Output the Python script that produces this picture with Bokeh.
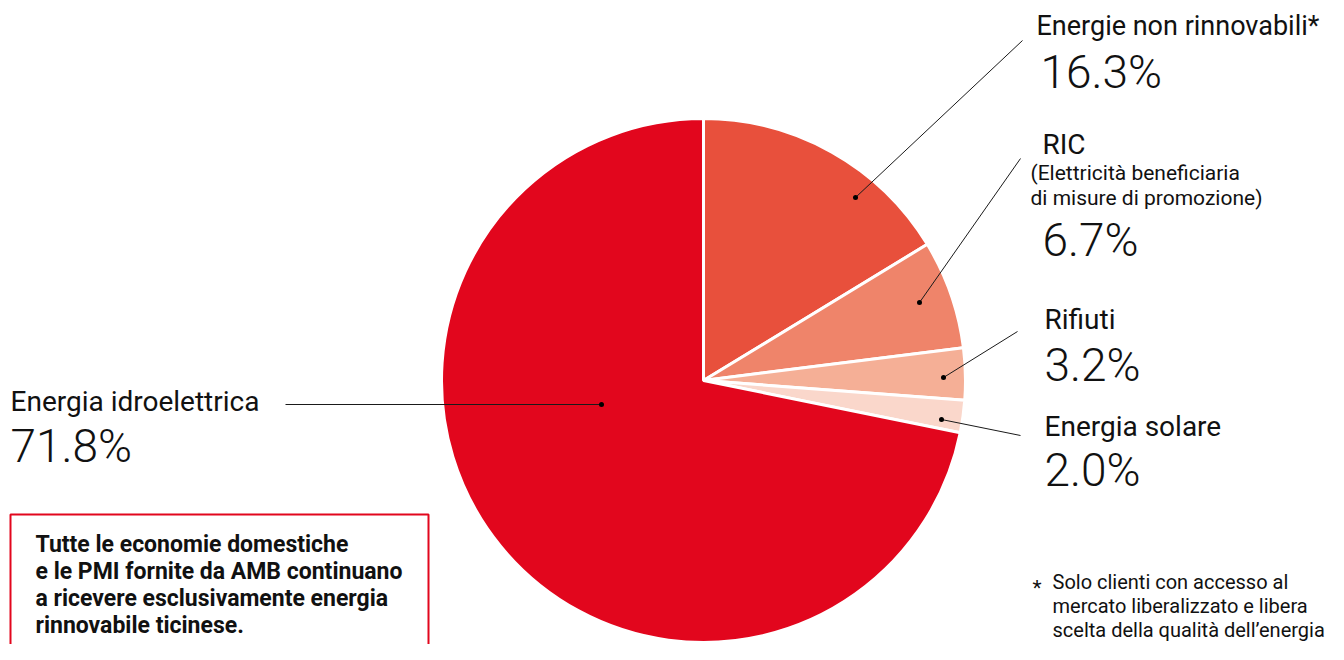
import numpy as np
from bokeh.plotting import figure
from bokeh.models import ColumnDataSource
from bokeh.core.properties import value
from bokeh.embed import file_html
from bokeh.resources import INLINE

# ---- data ----
categories = ["Energie non rinnovabili*", "RIC", "Rifiuti", "Energia solare", "Energia idroelettrica"]
shares = [16.3, 6.7, 3.2, 2.0, 71.8]
pct_labels = ["16.3%", "6.7%", "3.2%", "2.0%", "71.8%"]
colors = ["#E8503C", "#EF846A", "#F5AF96", "#FAD7CB", "#E2061D"]

box_lines = ["Tutte le economie domestiche",
             "e le PMI fornite da AMB continuano",
             "a ricevere  esclusivamente energia",
             "rinnovabile ticinese."]
foot_lines = ["Solo clienti con accesso al",
              "mercato liberalizzato e libera",
              "scelta della qualità dell\u2019energia"]
ric_sub = ["(Elettricità beneficiaria", "di misure di promozione)"]

# ---- layout (reference pixel space, y flipped: data y = 660 - py) ----
W, H = 1328, 644
CX, CY, R = 703, 660 - 380, 262
FONT = value("Roboto")
LIGHT = value("Roboto Light")


def ty(baseline_px, size):
    # baseline in picture px -> data y (compensating the svg baseline shift)
    return 660 - baseline_px + 0.38 * size


p = figure(width=W, height=H, x_range=(0, W), y_range=(660 - H, 660),
           output_backend="svg", toolbar_location=None, min_border=0)
p.axis.visible = False
p.grid.visible = False
p.outline_line_color = None
p.background_fill_color = "white"

# wedges clockwise from the top
frac = np.array(shares) / sum(shares)
cum = np.concatenate([[0], np.cumsum(frac)])
start = np.pi / 2 - cum[:-1] * 2 * np.pi
end = np.pi / 2 - cum[1:] * 2 * np.pi
src = ColumnDataSource(dict(start=start, end=end, color=colors))
p.wedge(x=CX, y=CY, radius=R, start_angle="start", end_angle="end", direction="clock",
        fill_color="color", line_color="white", line_width=3, source=src)

# leader lines (dot positions and label anchors, reference px)
dots = [(855, 197), (919, 302), (943, 377), (941, 419), (601, 404)]
ends = [(1022, 40), (1020, 158), (1017, 331), (1020, 435), (285, 404)]
p.segment(x0=[d[0] for d in dots], y0=[660 - d[1] for d in dots],
          x1=[e[0] for e in ends], y1=[660 - e[1] for e in ends],
          line_color="#1a1a1a", line_width=1)
p.scatter(x=[d[0] for d in dots], y=[660 - d[1] for d in dots], size=5,
          fill_color="black", line_color=None)

# labels
name_pos = [(1036, 36), (1042, 155), (1044, 330), (1044, 437), (10, 412)]
name_size = [27, 28, 28, 28, 28]
pct_pos = [(1040, 89), (1042, 257), (1044, 382), (1044, 487), (10, 463)]
for (x, y), s, t in zip(name_pos, name_size, categories):
    p.text(x=[x], y=[ty(y, s)], text=[t], text_font=FONT, text_font_size=f"{s}px",
           text_color="#111111", text_baseline="alphabetic", text_align="left")
p.text(x=[q[0] for q in pct_pos], y=[ty(q[1], 46) for q in pct_pos], text=pct_labels,
       text_font=LIGHT, text_font_size="46px", text_color="#111111",
       text_baseline="alphabetic", text_align="left")
p.text(x=[1030, 1030], y=[ty(180, 21), ty(205, 21)], text=ric_sub,
       text_font=FONT, text_font_size="21px", text_color="#111111",
       text_baseline="alphabetic", text_align="left")

# info box
p.quad(left=[10], right=[428], top=[660 - 514], bottom=[-20],
       fill_color=None, line_color="#E2061D", line_width=2)
p.text(x=[35] * 4, y=[ty(b, 23) for b in (553, 580, 607, 634)], text=box_lines,
       text_font=FONT, text_font_size="23px", text_font_style="bold", text_color="#111111",
       text_baseline="alphabetic", text_align="left")

# footnote
p.text(x=[1032], y=[ty(595, 21)], text=["*"], text_font=FONT, text_font_size="21px",
       text_color="#111111", text_baseline="alphabetic", text_align="left")
p.text(x=[1052] * 3, y=[ty(b, 20) for b in (589, 613, 637)], text=foot_lines,
       text_font=FONT, text_font_size="20px", text_color="#111111",
       text_baseline="alphabetic", text_align="left")

open("out.html", "w").write(file_html(p, INLINE))
